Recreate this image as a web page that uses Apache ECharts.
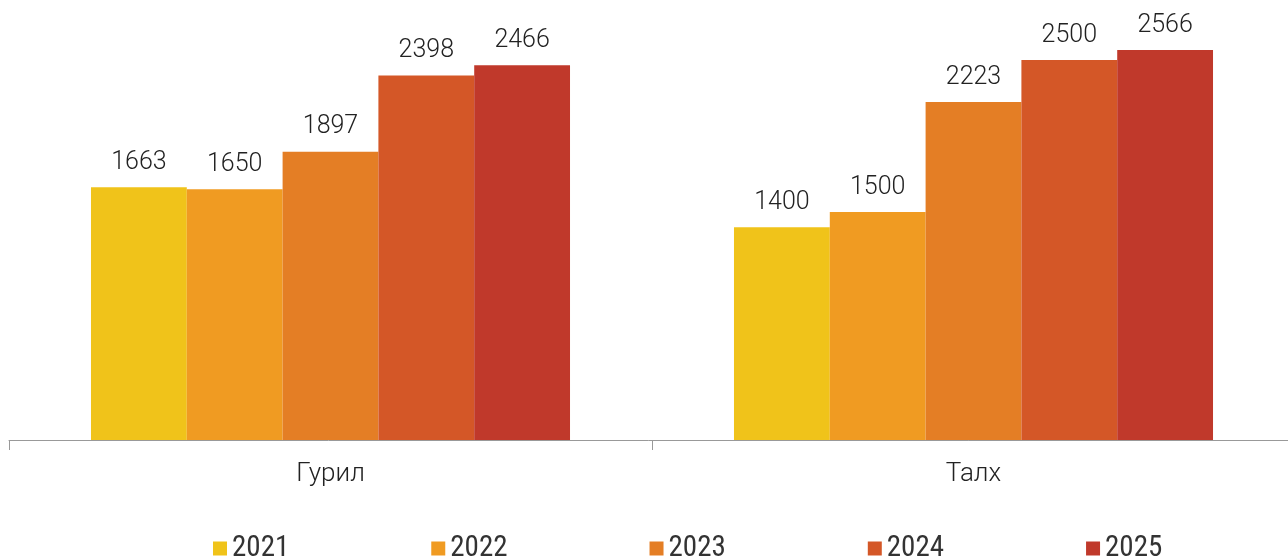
<!DOCTYPE html>
<html><head><meta charset="utf-8">
<script src="https://cdn.jsdelivr.net/npm/echarts@6/dist/echarts.min.js"></script>
<style>html,body{margin:0;padding:0;background:#fff}#c{width:1288px;height:557px}</style>
</head><body><div id="c"></div>
<script>
const categories = ['Гурил', 'Талх'];
const years = ['2021', '2022', '2023', '2024', '2025'];
const v2021 = [1663, 1400];
const v2022 = [1650, 1500];
const v2023 = [1897, 2223];
const v2024 = [2398, 2500];
const v2025 = [2466, 2566];
const values = [v2021, v2022, v2023, v2024, v2025];
const colors = ['#F0C31A', '#F09B22', '#E47E25', '#D45727', '#C0392B'];

const chart = echarts.init(document.getElementById('c'));
chart.setOption({
  animation: false,
  color: colors,
  textStyle: { fontFamily: 'Roboto', fontWeight: 300 },
  grid: { left: 9, top: 14.4, right: -7, bottom: 117, containLabel: false, outerBoundsMode: 'none' },
  legend: {
    top: 529, left: 208, itemWidth: 14, itemHeight: 14, itemGap: 142,
    icon: 'rect',
    textStyle: { fontSize: 29, color: '#333', fontFamily: '"Liberation Sans Narrow", "Roboto Condensed", Roboto', fontWeight: 'normal' },
    data: years
  },
  xAxis: {
    type: 'category', data: categories,
    axisLine: { lineStyle: { color: '#999', width: 1 } },
    axisTick: { show: true, length: 10, lineStyle: { color: '#999' } },
    axisLabel: { fontSize: 26, color: '#222', fontFamily: 'Roboto', fontWeight: 300, margin: 21 }
  },
  yAxis: { type: 'value', min: 0, max: 2800, show: false, splitLine: { show: false } },
  series: years.map((y, i) => ({
    name: y, type: 'bar', data: values[i], barGap: '0%', barCategoryGap: '25.5%',
    label: { show: true, position: 'top', distance: 12, fontSize: 25, color: '#222', fontFamily: 'Roboto', fontWeight: 300 }
  }))
});
</script></body></html>
